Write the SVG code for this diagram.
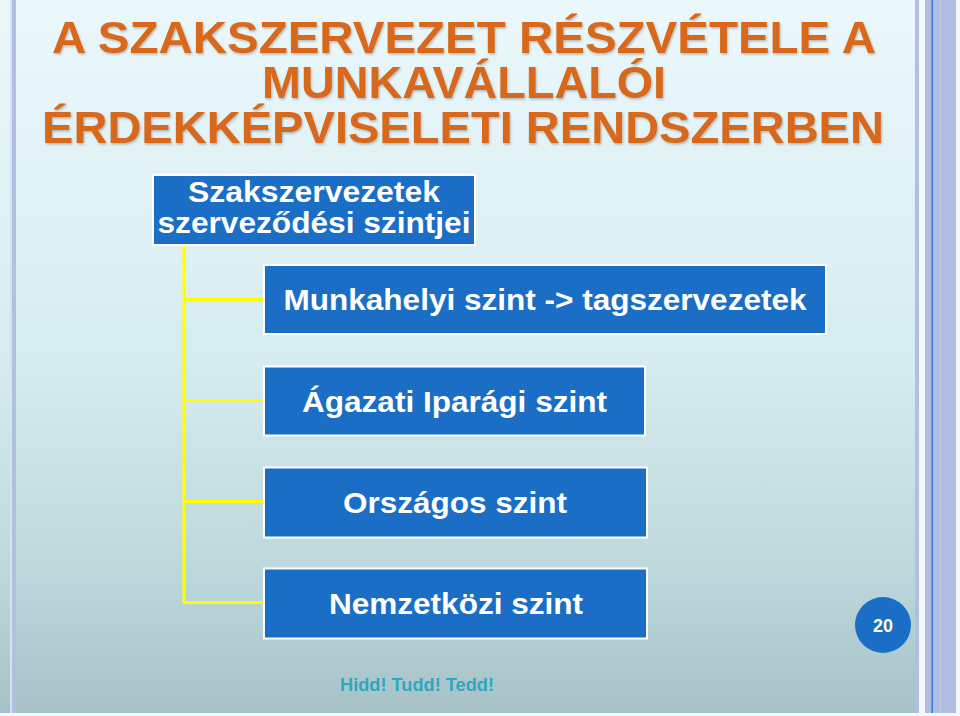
<svg xmlns="http://www.w3.org/2000/svg" width="960" height="716" viewBox="0 0 960 716">
  <defs>
    <linearGradient id="bg" x1="0" y1="0" x2="0" y2="1">
      <stop offset="0" stop-color="#ebf8fc"/>
      <stop offset="0.5" stop-color="#d6ecf1"/>
      <stop offset="0.8" stop-color="#bdd8dc"/>
      <stop offset="1" stop-color="#a6c2c6"/>
    </linearGradient>
    <filter id="sh" x="-5%" y="-5%" width="110%" height="120%">
      <feDropShadow dx="1" dy="1.5" stdDeviation="0.8" flood-color="#000" flood-opacity="0.25"/>
    </filter>
  </defs>
  <style>
    .title { font-family: "Liberation Sans", Arial, sans-serif; font-weight: bold; font-size: 44px; fill: #d8691a; text-anchor: middle; }
    .box rect { fill: #1a6ec6; stroke: #ffffff; stroke-width: 2; }
    .box text { font-family: "Liberation Sans", Arial, sans-serif; font-weight: bold; font-size: 30px; fill: #ffffff; text-anchor: middle; }
    .conn { stroke: #ffff00; stroke-width: 3; fill: none; }
    .foot { font-family: "Liberation Sans", Arial, sans-serif; font-weight: bold; font-size: 18px; fill: #31a7bf; }
  </style>

  <!-- background -->
  <rect x="0" y="0" width="960" height="716" fill="#f4fbfd"/>
  <rect x="0" y="0" width="958" height="713" fill="url(#bg)"/>

  <!-- left stripes -->
  <rect x="10" y="0" width="2" height="713" fill="#d5e2f3"/>
  <rect x="12" y="0" width="4" height="713" fill="#b1bfe2"/>

  <!-- right stripes -->
  <rect x="915" y="0" width="4" height="713" fill="#b1bfe0"/>
  <rect x="919" y="0" width="6" height="713" fill="#f2f8fc"/>
  <rect x="925" y="0" width="31" height="713" fill="#b0bee2"/>
  <rect x="931.5" y="0" width="1.5" height="713" fill="#3d78cc"/>
  <rect x="940" y="0" width="1" height="713" fill="#c3cdea"/>
  <rect x="956" y="0" width="4" height="716" fill="#f4f8fc"/>

  <!-- title -->
  <g id="title" filter="url(#sh)">
    <text class="title" x="464" y="53" textLength="824" lengthAdjust="spacingAndGlyphs">A SZAKSZERVEZET RÉSZVÉTELE A</text>
    <text class="title" x="464" y="98" textLength="404" lengthAdjust="spacingAndGlyphs">MUNKAVÁLLALÓI</text>
    <text class="title" x="463" y="143" textLength="842" lengthAdjust="spacingAndGlyphs">ÉRDEKKÉPVISELETI RENDSZERBEN</text>
  </g>

  <!-- connectors -->
  <g id="connectors">
    <path class="conn" d="M184 245 V603"/>
    <path class="conn" d="M184 299.5 H263"/>
    <path class="conn" d="M184 400.5 H263"/>
    <path class="conn" d="M184 501.5 H263"/>
    <path class="conn" d="M184 602.5 H263"/>
  </g>

  <!-- nodes -->
  <g id="node-root" class="box">
    <rect x="153" y="175" width="322" height="70"/>
    <text x="314" y="202" textLength="252" lengthAdjust="spacingAndGlyphs">Szakszervezetek</text>
    <text x="314" y="233" textLength="313" lengthAdjust="spacingAndGlyphs">szerveződési szintjei</text>
  </g>

  <g id="node-munkahelyi" class="box">
    <rect x="264" y="265" width="562" height="69"/>
    <text x="545" y="310" textLength="523" lengthAdjust="spacingAndGlyphs">Munkahelyi szint -&gt; tagszervezetek</text>
  </g>

  <g id="node-agazati" class="box">
    <rect x="264" y="366.5" width="381" height="69"/>
    <text x="454.5" y="412" textLength="305" lengthAdjust="spacingAndGlyphs">Ágazati Iparági szint</text>
  </g>

  <g id="node-orszagos" class="box">
    <rect x="264" y="467.5" width="383" height="70"/>
    <text x="455" y="513" textLength="224" lengthAdjust="spacingAndGlyphs">Országos szint</text>
  </g>

  <g id="node-nemzetkozi" class="box">
    <rect x="264" y="568.5" width="383" height="70"/>
    <text x="456" y="614" textLength="254" lengthAdjust="spacingAndGlyphs">Nemzetközi szint</text>
  </g>

  <!-- page number -->
  <g id="page-number">
    <circle cx="883" cy="625" r="28" fill="#1a6ec6"/>
    <text x="883" y="632" font-family="Liberation Sans, Arial, sans-serif" font-weight="bold" font-size="18" fill="#ffffff" text-anchor="middle">20</text>
  </g>

  <!-- footer -->
  <g id="footer">
    <text class="foot" x="340" y="691" textLength="154" lengthAdjust="spacingAndGlyphs">Hidd! Tudd! Tedd!</text>
  </g>
</svg>
